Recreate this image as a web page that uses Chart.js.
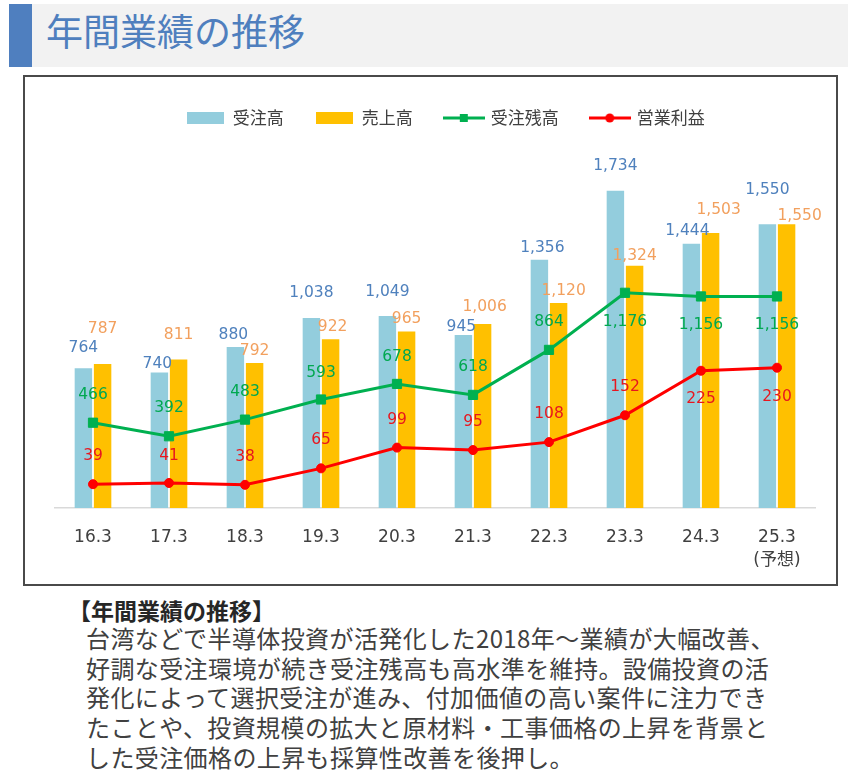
<!DOCTYPE html>
<html lang="ja">
<head>
<meta charset="utf-8">
<title>年間業績の推移</title>
<script src="https://cdn.jsdelivr.net/npm/chart.js"></script>
<style>
  html, body { margin: 0; padding: 0; background: #fff; }
  body { width: 848px; height: 774px; position: relative; overflow: hidden; font-family: "Noto Sans CJK JP", sans-serif; }
  #band { position: absolute; left: 32px; top: 4px; width: 816px; height: 63px; background: #f2f2f2; }
  #bar { position: absolute; left: 9px; top: 4px; width: 23px; height: 63px; background: #4f7fbf; }
  #title { position: absolute; left: 46px; top: 8px; font-size: 37px; line-height: 44px; color: #4f7fbe; white-space: nowrap; }
  #box { position: absolute; left: 23px; top: 75px; width: 815px; height: 511px; border: 2px solid #4a4a4a; box-sizing: border-box; }
  #chart { position: absolute; left: 26px; top: 77px; }
  #head { position: absolute; left: 68px; top: 598px; font-size: 23px; line-height: 24px; font-weight: bold; color: #262626; white-space: nowrap; }
  #text { position: absolute; left: 86px; top: 623px; font-size: 24px; line-height: 29.7px; letter-spacing: 0.4px; color: #404040; white-space: nowrap; }
</style>
</head>
<body>
<div id="band"></div>
<div id="bar"></div>
<div id="title">年間業績の推移</div>
<div id="box"></div>
<canvas id="chart" width="808" height="513"></canvas>
<div id="head">【年間業績の推移】</div>
<div id="text">台湾などで半導体投資が活発化した2018年～業績が大幅改善、<br>好調な受注環境が続き受注残高も高水準を維持。設備投資の活<br>発化によって選択受注が進み、付加価値の高い案件に注力でき<br>たことや、投資規模の拡大と原材料・工事価格の上昇を背景と<br>した受注価格の上昇も採算性改善を後押し。</div>
<script>
// values (億円)
var categories = ['16.3', '17.3', '18.3', '19.3', '20.3', '21.3', '22.3', '23.3', '24.3', ['25.3', '(予想)']];
var orders = [764, 740, 880, 1038, 1049, 945, 1356, 1734, 1444, 1550];
var sales = [787, 811, 792, 922, 965, 1006, 1120, 1324, 1503, 1550];
var backlog = [466, 392, 483, 593, 678, 618, 864, 1176, 1156, 1156];
var profit = [39, 41, 38, 65, 99, 95, 108, 152, 225, 230];

var seriesNames = ['受注高', '売上高', '受注残高', '営業利益'];
var barColors = ['#93cddd', '#ffc000'];
var lineColors = ['#00b050', '#ff0000'];
var labelColors = ['#4f81bd', '#f2a05e', '#00a850', '#e8161e'];

// legend swatches
function swatch(kind, color) {
    var c = document.createElement('canvas');
    c.width = kind == 'bar' ? 37 : 42;
    c.height = 12;
    var g = c.getContext('2d');
    g.fillStyle = color;
    g.strokeStyle = color;
    if (kind == 'bar') {
        g.fillRect(0, 0, 37, 12);
    } else {
        g.lineWidth = 3;
        g.beginPath();
        g.moveTo(0, 6);
        g.lineTo(42, 6);
        g.stroke();
        if (kind == 'rect') {
            g.fillRect(17, 2, 8, 8);
        } else {
            g.beginPath();
            g.arc(21, 6, 4.5, 0, Math.PI * 2);
            g.fill();
        }
    }
    return c;
}
var swatches = [
    swatch('bar', barColors[0]),
    swatch('bar', barColors[1]),
    swatch('rect', lineColors[0]),
    swatch('circle', lineColors[1])
];

// distance of each value label from its mark (positive = above, negative = below)
var labelGaps = [
    [20, 9, 12, 25, 24, 8, 12, 25, 13, 34],
    [35, 25, 12, 12, 12, 17, 12, 10, 23, 8],
    [28, 28, 28, 27, 27, 28, 28, -29, -29, -29],
    [28, 27, 28, 28, 28, 28, 28, 28, -28, -29]
];
var labelShift = [
    [0, -2, -2, 0, 0, -2, 3, 0, -4, 0],
    [0, 0, 0, 2, 0, 2, 5, 0, 8, 13],
    [0, 0, 0, 0, 0, 0, 0, 0, 0, 0],
    [0, 0, 0, 0, 0, 0, 0, 0, 0, 0]
];

var valueLabels = {
    id: 'valueLabels',
    afterDatasetsDraw: function (chart) {
        var ctx = chart.ctx;
        ctx.save();
        ctx.font = '15.5px "DejaVu Sans", Verdana, sans-serif';
        ctx.textAlign = 'center';
        ctx.textBaseline = 'middle';
        chart.data.datasets.forEach(function (ds, i) {
            var meta = chart.getDatasetMeta(i);
            ctx.fillStyle = labelColors[i];
            meta.data.forEach(function (el, j) {
                var txt = ds.data[j].toLocaleString('en-US');
                ctx.fillText(txt, el.x + labelShift[i][j], el.y - labelGaps[i][j]);
            });
        });
        ctx.restore();
    }
};

// a little more room under the legend, and nudge it right like the original
var legendSpacer = {
    id: 'legendSpacer',
    beforeInit: function (chart) {
        var fit = chart.legend.fit;
        chart.legend.fit = function () {
            fit.call(this);
            this.height += 5.5;
        };
    },
    afterLayout: function (chart) {
        chart.legend.left += 11;
        chart.legend.right += 11;
    }
};

var chart = new Chart(document.getElementById('chart'), {
    type: 'bar',
    data: {
        labels: categories,
        datasets: [{
            label: seriesNames[0],
            data: orders,
            backgroundColor: barColors[0],
            yAxisID: 'y',
            order: 2,
            categoryPercentage: 0.505,
            barPercentage: 0.91
        }, {
            label: seriesNames[1],
            data: sales,
            backgroundColor: barColors[1],
            yAxisID: 'y',
            order: 2,
            categoryPercentage: 0.505,
            barPercentage: 0.91
        }, {
            type: 'line',
            label: seriesNames[2],
            data: backlog,
            borderColor: lineColors[0],
            backgroundColor: lineColors[0],
            borderWidth: 3,
            pointStyle: 'rect',
            pointRadius: 6.5,
            pointBorderWidth: 1,
            tension: 0,
            yAxisID: 'y',
            order: 1
        }, {
            type: 'line',
            label: seriesNames[3],
            data: profit,
            borderColor: lineColors[1],
            backgroundColor: lineColors[1],
            borderWidth: 3,
            pointStyle: 'circle',
            pointRadius: 4.5,
            pointBorderWidth: 1,
            tension: 0,
            yAxisID: 'y2',
            order: 0
        }]
    },
    options: {
        responsive: false,
        animation: false,
        layout: { padding: { top: 0, left: 29, right: 19, bottom: 0 } },
        scales: {
            x: {
                grid: { display: false, drawTicks: false },
                border: { display: true, color: '#d9d9d9', width: 1.5 },
                ticks: {
                    color: '#404040',
                    padding: 18,
                    font: { family: '"DejaVu Sans", "Noto Sans CJK JP", sans-serif', size: 17, lineHeight: 1.353 }
                }
            },
            y: { display: false, min: 0, max: 2000 },
            y2: { display: false, min: 0, max: 600 }
        },
        plugins: {
            tooltip: { enabled: false },
            legend: {
                position: 'top',
                labels: {
                    usePointStyle: true,
                    pointStyleWidth: 37,
                    padding: 32.5,
                    color: '#404040',
                    font: { family: '"Noto Sans CJK JP", sans-serif', size: 17 },
                    generateLabels: function (chart) {
                        return chart.data.datasets.map(function (ds, i) {
                            return {
                                text: ds.label,
                                pointStyle: swatches[i],
                                fillStyle: 'rgba(0,0,0,0)',
                                strokeStyle: 'rgba(0,0,0,0)',
                                lineWidth: 0,
                                fontColor: '#404040',
                                hidden: !chart.isDatasetVisible(i),
                                datasetIndex: i
                            };
                        });
                    }
                }
            }
        }
    },
    plugins: [valueLabels, legendSpacer]
});
</script>
</body>
</html>
